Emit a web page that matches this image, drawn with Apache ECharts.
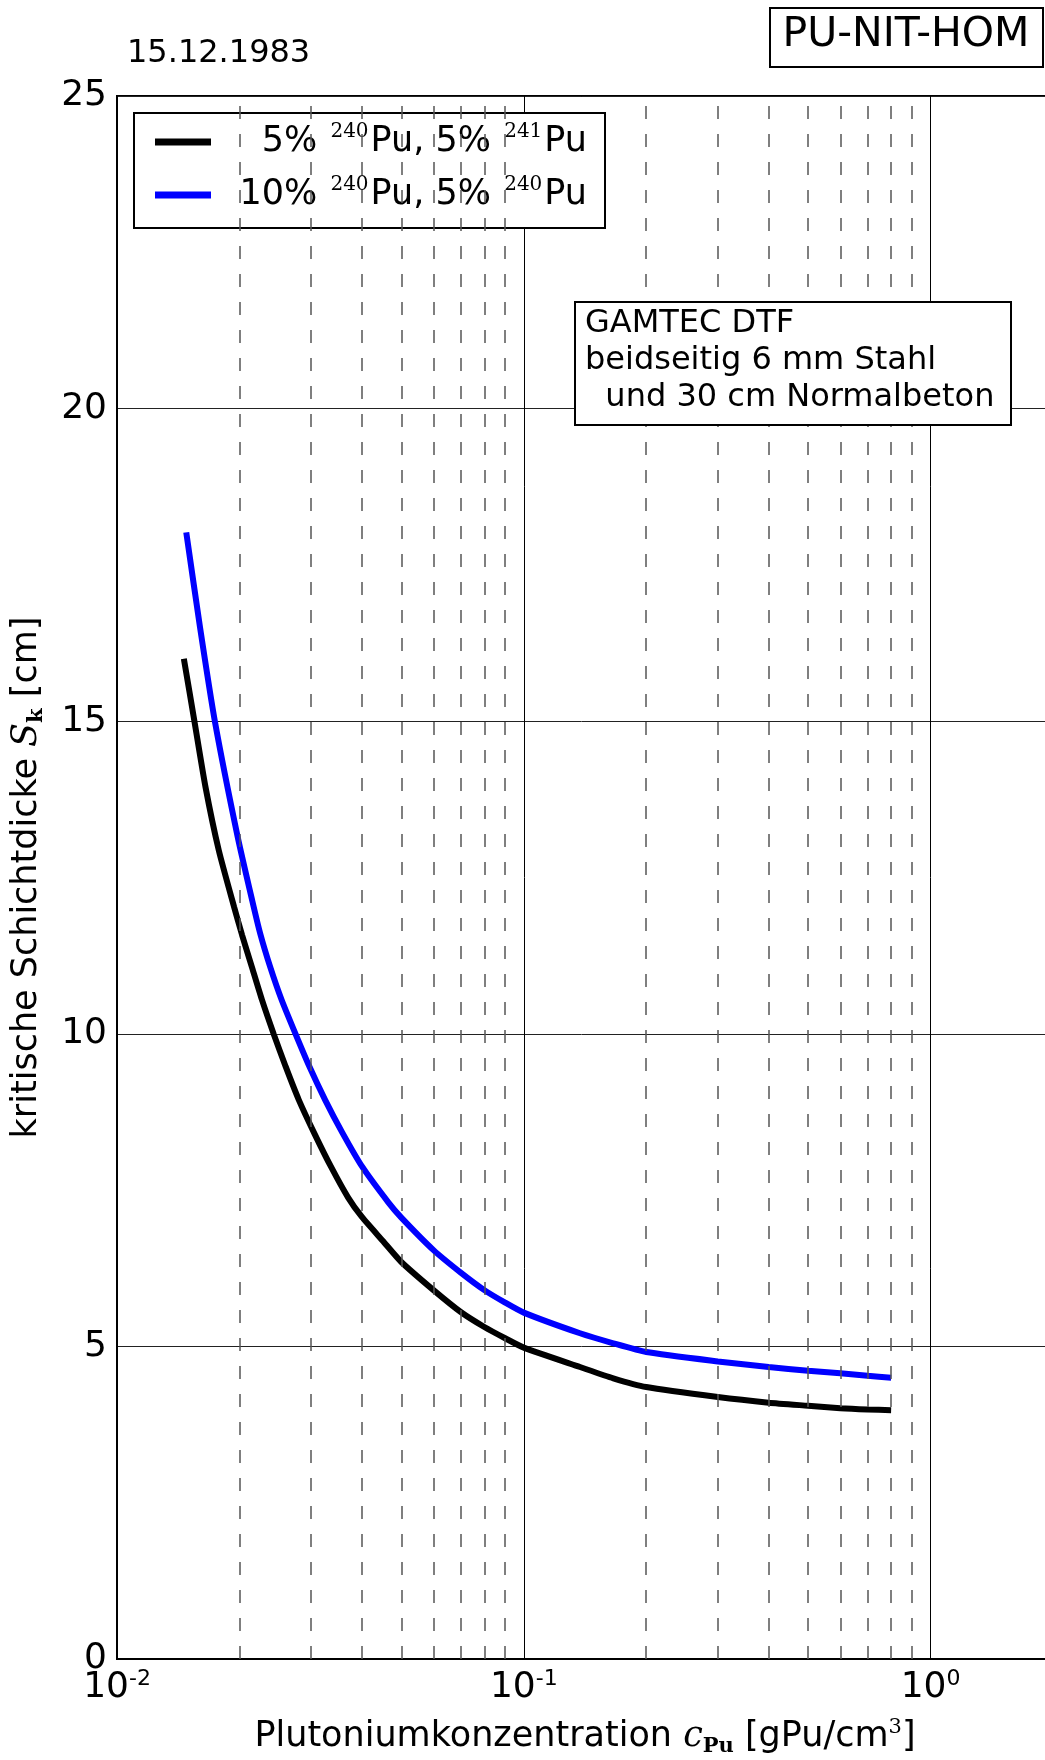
<!DOCTYPE html>
<html>
<head>
<meta charset="utf-8">
<script src="https://cdn.jsdelivr.net/npm/echarts@6/dist/echarts.min.js"></script>
<style>html,body{margin:0;padding:0;background:#fff}#c{width:1045px;height:1760px}</style>
</head>
<body>
<div id="c"></div>
<script>
// ---- data ----
const seriesNames = ['5% 240Pu, 5% 241Pu', '10% 240Pu, 5% 240Pu'];
const blackConc  = [0.0146, 0.0155, 0.0165, 0.0178, 0.0194, 0.0203, 0.0215, 0.0227, 0.0243, 0.026, 0.028, 0.0306, 0.0336, 0.037, 0.04, 0.045, 0.05, 0.06, 0.07, 0.08, 0.09, 0.1, 0.1375, 0.166, 0.2, 0.3, 0.4, 0.5, 0.6, 0.7, 0.8];
const blackThick = [16.0, 15.0, 13.95, 12.93, 12.03, 11.58, 11.05, 10.55, 9.99, 9.47, 8.94, 8.40, 7.87, 7.38, 7.07, 6.69, 6.35, 5.90, 5.55, 5.31, 5.13, 4.98, 4.67, 4.49, 4.35, 4.19, 4.10, 4.05, 4.01, 3.99, 3.98];
const blueConc   = [0.0148, 0.016, 0.0174, 0.0198, 0.0215, 0.0225, 0.0238, 0.0254, 0.0275, 0.0296, 0.0325, 0.0358, 0.0401, 0.0465, 0.05, 0.06, 0.07, 0.08, 0.09, 0.1, 0.1375, 0.166, 0.2, 0.3, 0.4, 0.5, 0.6, 0.7, 0.8];
const blueThick  = [18.02, 16.5, 15.0, 13.15, 12.13, 11.60, 11.07, 10.54, 9.99, 9.50, 8.94, 8.42, 7.87, 7.30, 7.06, 6.54, 6.18, 5.90, 5.70, 5.54, 5.21, 5.05, 4.91, 4.76, 4.67, 4.61, 4.57, 4.53, 4.50];
const minorTicks = [0.02, 0.03, 0.04, 0.05, 0.06, 0.07, 0.08, 0.09, 0.2, 0.3, 0.4, 0.5, 0.6, 0.7, 0.8, 0.9];
const xMin = 0.01, xMax = 2;
const yMin = 0, yMax = 25, yStep = 5;
const dateText = '15.12.1983';
const titleText = 'PU-NIT-HOM';
const noteLines = ['GAMTEC DTF', 'beidseitig 6 mm Stahl', '  und 30 cm Normalbeton'];

const SANS = 'DejaVu Sans', SERIF = 'DejaVu Serif';
const pairs = (xs, ys) => xs.map((x, i) => [x, ys[i]]);

const legendRich = {
  t: {fontFamily: SANS, fontSize: 35, color: '#000', align: 'right', lineHeight: 40},
  s: {fontFamily: SERIF, fontSize: 20, color: '#000', align: 'right', verticalAlign: 'top', lineHeight: 26, padding: [0, 2, 0, 2]}
};
function legendFmt(name) {
  if (name === seriesNames[0]) return '{t|5% }{s|240}{t|Pu, 5% }{s|241}{t|Pu}';
  return '{t|10% }{s|240}{t|Pu, 5% }{s|240}{t|Pu}';
}

const chart = echarts.init(document.getElementById('c'), null, {renderer: 'canvas'});
chart.setOption({
  animation: false,
  backgroundColor: '#fff',
  grid: {left: 117, top: 96, bottom: 101, right: -8, show: true, borderColor: '#000', borderWidth: 2, backgroundColor: '#fff', containLabel: false, outerBoundsMode: 'none'},
  legend: {
    data: seriesNames, left: 134, top: 113, orient: 'vertical', align: 'left',
    backgroundColor: '#fff', borderColor: '#000', borderWidth: 2, borderRadius: 0,
    padding: [9, 18, 13, 21], itemGap: 13, itemWidth: 56, itemHeight: 7, icon: 'rect',
    selectedMode: false,
    textStyle: {width: 371, lineHeight: 40, rich: legendRich},
    formatter: legendFmt
  },
  xAxis: {
    type: 'log', logBase: 10, min: xMin, max: xMax,
    axisLine: {show: true, lineStyle: {color: '#000', width: 2}},
    axisTick: {show: false},
    splitLine: {show: true, lineStyle: {color: '#000', width: 1}},
    axisLabel: {
      margin: 9, showMaxLabel: false,
      formatter: v => '{b|10}{s|' + Math.round(Math.log10(v)) + '}',
      rich: {
        b: {fontFamily: SANS, fontSize: 36, color: '#000', lineHeight: 40},
        s: {fontFamily: SANS, fontSize: 22, color: '#000', verticalAlign: 'top', lineHeight: 12}
      }
    },
    name: '{t|Plutoniumkonzentration }{it|c}{sub|Pu}{t| [gPu/cm}{sup|3}{t|]}',
    nameLocation: 'middle', nameGap: 58,
    nameTextStyle: {
      rich: {
        t: {fontFamily: SANS, fontSize: 35, color: '#000', lineHeight: 40},
        it: {fontFamily: SERIF, fontSize: 35, fontStyle: 'italic', color: '#000', lineHeight: 40},
        sub: {fontFamily: SERIF, fontSize: 21, fontWeight: 'bold', color: '#000', verticalAlign: 'bottom', lineHeight: 22},
        sup: {fontFamily: SERIF, fontSize: 21, color: '#000', verticalAlign: 'top', lineHeight: 20}
      }
    }
  },
  yAxis: {
    type: 'value', min: yMin, max: yMax, interval: yStep,
    axisLine: {show: true, lineStyle: {color: '#000', width: 2}},
    axisTick: {show: false},
    splitLine: {show: true, lineStyle: {color: '#222', width: 1}},
    axisLabel: {margin: 10, fontFamily: SANS, fontSize: 36, color: '#000'},
    name: '{t|kritische Schichtdicke }{it|S}{sub|k}{t| [cm]}',
    nameLocation: 'middle', nameGap: 70,
    nameTextStyle: {
      rich: {
        t: {fontFamily: SANS, fontSize: 35, color: '#000', lineHeight: 40},
        it: {fontFamily: SERIF, fontSize: 35, fontStyle: 'italic', color: '#000', lineHeight: 40},
        sub: {fontFamily: SERIF, fontSize: 21, fontWeight: 'bold', color: '#000', verticalAlign: 'bottom', lineHeight: 22}
      }
    }
  },
  series: [
    {
      type: 'line', name: 'minor', data: [], z: 1, silent: true,
      markLine: {
        silent: true, symbol: ['none', 'none'], label: {show: false},
        lineStyle: {type: [13, 15], color: '#555', width: 1.5},
        emphasis: {disabled: true},
        data: minorTicks.map(v => ({xAxis: v}))
      }
    },
    {
      type: 'line', name: seriesNames[0], data: pairs(blackConc, blackThick), z: 3,
      showSymbol: false, symbol: 'none', smooth: 0.2,
      lineStyle: {color: '#000', width: 6}, itemStyle: {color: '#000'}
    },
    {
      type: 'line', name: seriesNames[1], data: pairs(blueConc, blueThick), z: 3,
      showSymbol: false, symbol: 'none', smooth: 0.2,
      lineStyle: {color: '#0000ff', width: 6}, itemStyle: {color: '#0000ff'}
    }
  ],
  graphic: [
    {type: 'rect', z: 100, shape: {x: 770, y: 8, width: 273, height: 59}, style: {fill: '#fff', stroke: '#000', lineWidth: 2}},
    {type: 'text', z: 101, x: 906, y: 35, style: {text: titleText, font: '41px "DejaVu Sans"', fill: '#000', align: 'center', verticalAlign: 'middle'}},
    {type: 'text', z: 101, x: 127, y: 54, style: {text: dateText, font: '32px "DejaVu Sans"', fill: '#000', align: 'left', verticalAlign: 'middle'}},
    {type: 'rect', z: 100, shape: {x: 575, y: 302, width: 436, height: 123}, style: {fill: '#fff', stroke: '#000', lineWidth: 2}},
    {type: 'text', z: 101, x: 585, y: 324, style: {text: noteLines[0], font: '32px "DejaVu Sans"', fill: '#000', align: 'left', verticalAlign: 'middle'}},
    {type: 'text', z: 101, x: 585, y: 361, style: {text: noteLines[1], font: '32px "DejaVu Sans"', fill: '#000', align: 'left', verticalAlign: 'middle'}},
    {type: 'text', z: 101, x: 585, y: 398, style: {text: noteLines[2], font: '32px "DejaVu Sans"', fill: '#000', align: 'left', verticalAlign: 'middle'}}
  ]
});
</script>
</body>
</html>
